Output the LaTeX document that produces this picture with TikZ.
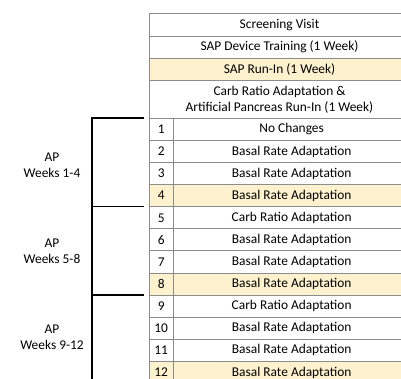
\documentclass[tikz,border=0pt]{standalone}
\usepackage{fontspec}
\setmainfont{Carlito}
\usetikzlibrary{positioning}
\definecolor{runin}{RGB}{253,241,206}
\definecolor{rulegray}{RGB}{140,140,140}

\begin{document}
\begin{tikzpicture}[x=1pt, y=1pt, font=\fontsize{13.4}{16}\selectfont,
  cell/.style={draw=rulegray, line width=0.9pt, inner sep=0pt, outer sep=0pt,
               align=center, minimum height=22.1pt},
  head/.style={cell, minimum width=261pt},
  num/.style={cell, minimum width=24.3pt},
  task/.style={cell, minimum width=236.7pt},
  runrow/.style={fill=runin},
  divider/.style={draw=rulegray, line width=1.5pt},
  brk/.style={line width=1.6pt},
  lbl/.style={align=center}]

\clip (0,0) rectangle (401,-379);

% Kopfzeilen: Vorbereitung
\node[head] (screen) at (279.5,-25) {Screening Visit};
\node[head, below=0pt of screen] (train) {SAP Device Training (1 Week)};
\node[head, runrow, below=0pt of train] (sapin) {SAP Run-In (1 Week)};
\node[head, minimum height=38.3pt, below=0pt of sapin] (apin)
     {Carb Ratio Adaptation \&\\Artificial Pancreas Run-In (1 Week)};

% Wochen 1-4
\node[num] (n1) at (161.15,-129.35) {1};
\node[task, right=0pt of n1] (t1) {No Changes};
\node[num, below=0pt of n1] (n2) {2};
\node[task, right=0pt of n2] (t2) {Basal Rate Adaptation};
\node[num, below=0pt of n2] (n3) {3};
\node[task, right=0pt of n3] (t3) {Basal Rate Adaptation};
\node[num, runrow, below=0pt of n3] (n4) {4};
\node[task, runrow, right=0pt of n4] (t4) {Basal Rate Adaptation};

% Wochen 5-8
\node[num, below=0pt of n4] (n5) {5};
\node[task, right=0pt of n5] (t5) {Carb Ratio Adaptation};
\node[num, below=0pt of n5] (n6) {6};
\node[task, right=0pt of n6] (t6) {Basal Rate Adaptation};
\node[num, below=0pt of n6] (n7) {7};
\node[task, right=0pt of n7] (t7) {Basal Rate Adaptation};
\node[num, runrow, below=0pt of n7] (n8) {8};
\node[task, runrow, right=0pt of n8] (t8) {Basal Rate Adaptation};

% Wochen 9-12
\node[num, below=0pt of n8] (n9) {9};
\node[task, right=0pt of n9] (t9) {Carb Ratio Adaptation};
\node[num, below=0pt of n9] (n10) {10};
\node[task, right=0pt of n10] (t10) {Basal Rate Adaptation};
\node[num, below=0pt of n10] (n11) {11};
\node[task, right=0pt of n11] (t11) {Basal Rate Adaptation};
\node[num, runrow, below=0pt of n11] (n12) {12};
\node[task, runrow, right=0pt of n12] (t12) {Basal Rate Adaptation};

\draw[divider] (n1.north east) -- (n12.south east);

% Klammer links
\coordinate (g1) at ([xshift=-5pt]n1.north west);
\coordinate (g5) at ([xshift=-5pt]n5.north west);
\coordinate (g9) at ([xshift=-5pt]n9.north west);
\coordinate (spine) at (92,-390);
\draw[brk] (g1) -| (spine);
\draw[brk] (g5) -- (g5 -| spine);
\draw[brk] (g9) -- (g9 -| spine);

\node[lbl] (wk1) at (52,-165) {AP\\Weeks 1-4};
\node[lbl] (wk5) at (52,-251) {AP\\Weeks 5-8};
\node[lbl] (wk9) at (52,-337) {AP\\Weeks 9-12};
\end{tikzpicture}
\end{document}
